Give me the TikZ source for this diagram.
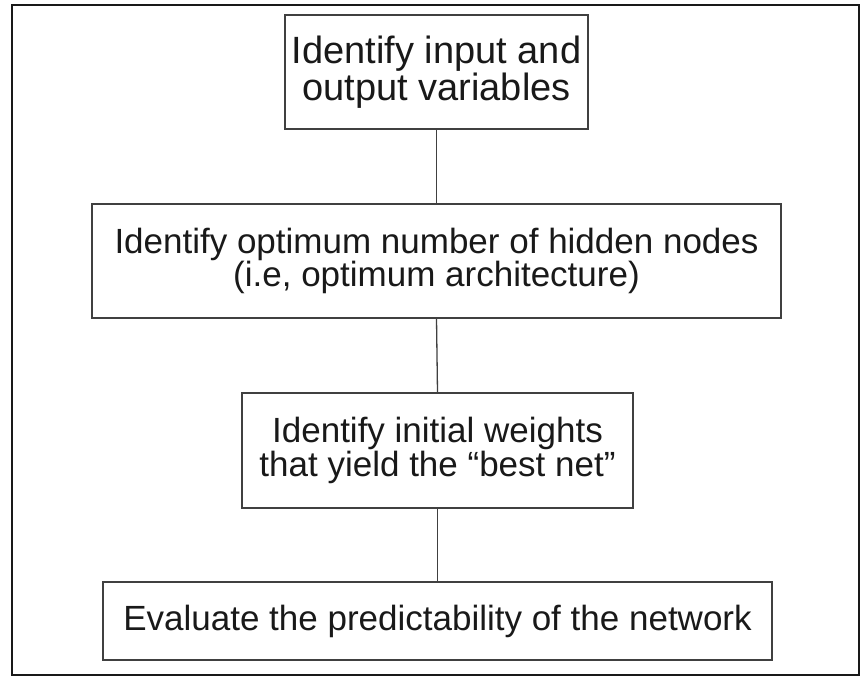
\documentclass[tikz,border=0pt]{standalone}
\usepackage{fontspec}
\setmainfont{Liberation Sans}
\begin{document}
\begin{tikzpicture}[x=1pt,y=-1pt,
  stepbox/.style={draw=black!75,line width=1.3pt,align=center,inner sep=0pt,
    font=\fontsize{35}{32}\selectfont,text=black!90},
  link/.style={draw=black!75,line width=1.3pt}]
\useasboundingbox (0,0) rectangle (866,678);
\draw[line width=2.2pt,black!90] (12,5) rectangle (859,675);
\node[stepbox,minimum width=303pt,minimum height=114pt,font=\fontsize{38}{31}\selectfont] (a) at (436.5,72) {Identify input and\\output variables};
\node[stepbox,minimum width=689pt,minimum height=114pt] (b) at (436.5,261) {Identify optimum number of hidden nodes\\(i.e, optimum architecture)};
\node[stepbox,minimum width=391pt,minimum height=115pt] (c) at (437.5,450.5) {Identify initial weights\\that yield the ``best net''};
\node[stepbox,minimum width=669pt,minimum height=78pt] (d) at (437.5,621) {Evaluate the predictability of the network};
\draw[link] (a.south) -- (b.north);
\draw[link] (b.south) -- (c.north);
\draw[link] (c.south) -- (d.north);
\end{tikzpicture}
\end{document}
